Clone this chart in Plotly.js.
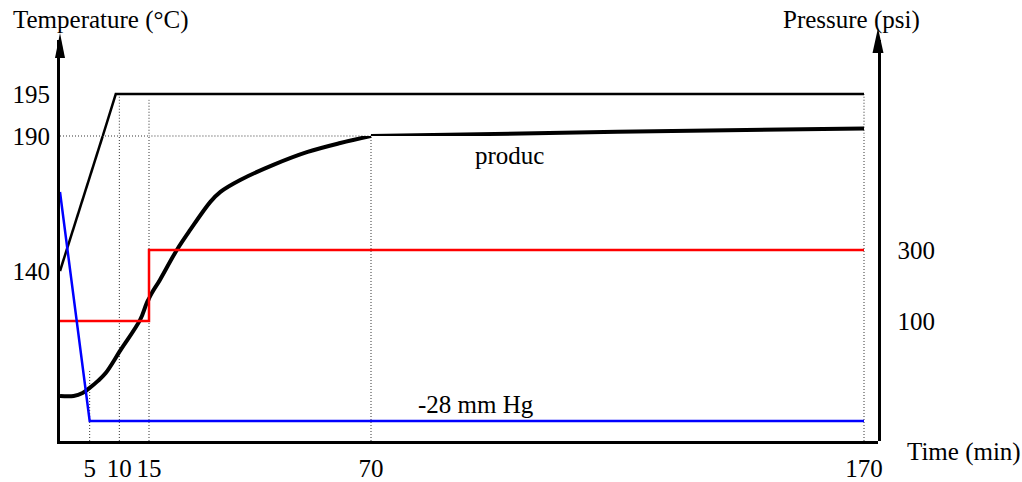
<!DOCTYPE html>
<html><head><meta charset="utf-8">
<script src="https://cdn.plot.ly/plotly-3.0.1.min.js"></script>
<style>html,body{margin:0;padding:0;background:#fff}#chart{width:1022px;height:482px}</style>
</head><body><div id="chart"></div>
<script>
// ---- tick values ----
const timeTicks = [5, 10, 15, 70, 170];          // min
const tempTicks = [140, 190, 195];               // °C
const pressureTicks = [100, 300];                // psi

// ---- series ----
const setpointTime = [0, 7.2, 9.4, 170];
const setpointTemp = [140, 190, 195, 195];

const productTime = [0, 2.3, 3.8, 5, 6.4, 7.7, 10.2, 13.5, 15, 17.7, 21.9, 25.2, 30.2, 32.7, 37.6, 45.8, 54.3, 62.4, 70, 120, 170];
const productTemp = [93.7, 93.7, 94.8, 96.7, 99.3, 102.2, 110.7, 121.9, 129.8, 136.7, 147.8, 155.2, 165.6, 169.3, 173.7, 179.3, 184.1, 187.4, 190, 190.5, 190.9];

const pressureTime = [0, 15, 15, 170];
const pressurePsi = [100, 100, 300, 300];

const vacuumTime = [0, 5, 170];
const vacuumMmHg = [0, -28, -28];

// dotted guide lines
const guideTime = [5, 10, 15, 70, 170];
const guideTopTemp = [103, 195, 194.3, 190, 195];
const guide190Time = [0, 70];
const guide190Temp = [190, 190];

// ---- axis layout (schematic, broken axes) ----
const tempLowRange = [77.04, 190];
const tempHighRange = [190, 201.43];
const pressureRange = [-238.03, 891.55];
const vacuumRange = [-30.445, 18.585];
const xMax = 172.84;

const xSegs = [
  {id: 'x', name: 'xaxis', lo: 0, hi: timeTicks[2], domain: [0, 0.108802]},
  {id: 'x2', name: 'xaxis2', lo: timeTicks[2], hi: timeTicks[3], domain: [0.108802, 0.380196]},
  {id: 'x3', name: 'xaxis3', lo: timeTicks[3], hi: xMax, domain: [0.380196, 1]}
];
const tempSegs = [
  {id: 'y', lo: tempLowRange[0], hi: tempLowRange[1]},
  {id: 'y3', lo: tempHighRange[0], hi: tempHighRange[1]}
];

function pick(xs, ys, xlo, xhi, ylo, yhi) {
  const ox = [], oy = [];
  let last = -2;
  for (let i = 0; i < xs.length - 1; i++) {
    const a = Math.min(xs[i], xs[i + 1]), b = Math.max(xs[i], xs[i + 1]);
    const c = Math.min(ys[i], ys[i + 1]), d = Math.max(ys[i], ys[i + 1]);
    const inX = (a <= xhi && b >= xlo);
    const inY = (c < yhi && d > ylo) || (c === d && c >= ylo && c <= yhi);
    if (inX && inY) {
      if (last !== i - 1) {
        if (ox.length) { ox.push(null); oy.push(null); }
        ox.push(xs[i]); oy.push(ys[i]);
      }
      ox.push(xs[i + 1]); oy.push(ys[i + 1]);
      last = i;
    }
  }
  return {x: ox, y: oy};
}

const dotted = {color: '#333', width: 1, dash: '1px,2px'};
const series = [];
guideTime.forEach((t, i) => {
  series.push({x: [t, t], y: [tempLowRange[0], guideTopTemp[i]], kind: 'temp', line: dotted});
});
series.push({x: guide190Time, y: guide190Temp, kind: 'temp', line: dotted});
series.push({x: pressureTime, y: pressurePsi, kind: 'pressure', line: {color: '#ff0000', width: 2.5}});
series.push({x: setpointTime, y: setpointTemp, kind: 'temp', line: {color: '#000', width: 2.5}});
series.push({x: productTime, y: productTemp, kind: 'temp', line: {color: '#000', width: 4, shape: 'spline', smoothing: 1}});
series.push({x: vacuumTime, y: vacuumMmHg, kind: 'vacuum', line: {color: '#0000ff', width: 2.5}});

const traces = [];
series.forEach(s => {
  xSegs.forEach(xs => {
    let ySegs;
    if (s.kind === 'temp') ySegs = tempSegs;
    else if (s.kind === 'pressure') ySegs = [{id: 'y2', lo: -Infinity, hi: Infinity}];
    else ySegs = [{id: 'y4', lo: -Infinity, hi: Infinity}];
    ySegs.forEach(ys => {
      const p = pick(s.x, s.y, xs.lo, xs.hi, ys.lo, ys.hi);
      if (!p.x.length) return;
      traces.push({type: 'scatter', mode: 'lines', x: p.x, y: p.y, xaxis: xs.id, yaxis: ys.id,
        line: s.line, connectgaps: false, hoverinfo: 'skip', showlegend: false});
    });
  });
});

const FONT = '"Liberation Serif", "Times New Roman", Times, serif';
const FS = 25;
const tickFont = {family: FONT, size: FS, color: '#000'};
const txt = {family: FONT, size: FS, color: '#000'};

const layout = {
  width: 1022, height: 482,
  margin: {l: 60, r: 144, t: 40, b: 41, pad: 0},
  paper_bgcolor: '#fff', plot_bgcolor: 'rgba(0,0,0,0)',
  showlegend: false,
  font: txt,
  annotations: [
    {text: 'Temperature (°C)', xref: 'paper', yref: 'paper', x: -0.0600, y: 1.0490, xanchor: 'left', yanchor: 'middle', showarrow: false, font: txt},
    {text: 'Pressure (psi)', xref: 'paper', yref: 'paper', x: 1.0540, y: 1.0505, xanchor: 'right', yanchor: 'middle', showarrow: false, font: txt},
    {text: 'Time (min)', xref: 'paper', yref: 'paper', x: 1.0330, y: -0.0274, xanchor: 'left', yanchor: 'middle', showarrow: false, font: txt},
    {text: 'produc', xref: 'paper', yref: 'paper', x: 0.5050, y: 0.7132, xanchor: 'left', yanchor: 'middle', showarrow: false, font: txt},
    {text: '-28 mm Hg', xref: 'paper', yref: 'paper', x: 0.4355, y: 0.0898, xanchor: 'left', yanchor: 'middle', showarrow: false, font: txt}
  ],
  shapes: [
    {type: 'path', xref: 'paper', yref: 'paper', xsizemode: 'pixel', ysizemode: 'pixel', xanchor: 0, yanchor: 1,
     path: 'M0,7 L-5,-18 L5,-18 Z', fillcolor: '#000', line: {width: 0}},
    {type: 'path', xref: 'paper', yref: 'paper', xsizemode: 'pixel', ysizemode: 'pixel', xanchor: 1, yanchor: 1,
     path: 'M0,12 L-5.5,-13 L5.5,-13 Z', fillcolor: '#000', line: {width: 0}}
  ]
};

xSegs.forEach(xs => {
  const tv = timeTicks.filter(v => v > xs.lo && v <= xs.hi);
  layout[xs.name] = {
    domain: xs.domain, range: [xs.lo, xs.hi], anchor: 'y',
    showline: true, linewidth: 2.5, linecolor: '#000', showgrid: false, zeroline: false,
    ticks: '', tickmode: 'array', tickvals: tv, ticktext: tv.map(String),
    tickfont: tickFont, ticklabelstandoff: 3, fixedrange: true
  };
});

layout.yaxis = {
  domain: [0, 0.760599], range: tempLowRange, anchor: 'x',
  showline: true, linewidth: 3, linecolor: '#000', showgrid: false, zeroline: false,
  ticks: '', tickmode: 'array', tickvals: tempTicks.filter(v => v <= tempLowRange[1]),
  ticktext: tempTicks.filter(v => v <= tempLowRange[1]).map(String),
  tickfont: tickFont, ticklabelstandoff: 2, fixedrange: true
};
layout.yaxis3 = {
  domain: [0.760599, 1], range: tempHighRange, anchor: 'x',
  showline: true, linewidth: 3, linecolor: '#000', showgrid: false, zeroline: false,
  ticks: '', tickmode: 'array', tickvals: tempTicks.filter(v => v > tempHighRange[0]),
  ticktext: tempTicks.filter(v => v > tempHighRange[0]).map(String),
  tickfont: tickFont, ticklabelstandoff: 2, fixedrange: true
};
layout.yaxis2 = {
  domain: [0, 1], range: pressureRange, anchor: 'x3', side: 'right',
  showline: true, linewidth: 2.5, linecolor: '#000', showgrid: false, zeroline: false,
  ticks: '', tickmode: 'array', tickvals: pressureTicks, ticktext: pressureTicks.map(String),
  tickfont: tickFont, ticklabelstandoff: 12, fixedrange: true
};
layout.yaxis4 = {
  domain: [0, 1], range: vacuumRange, anchor: 'x', visible: false, fixedrange: true
};

Plotly.newPlot('chart', traces, layout, {staticPlot: true, displayModeBar: false});
</script>
</body></html>
